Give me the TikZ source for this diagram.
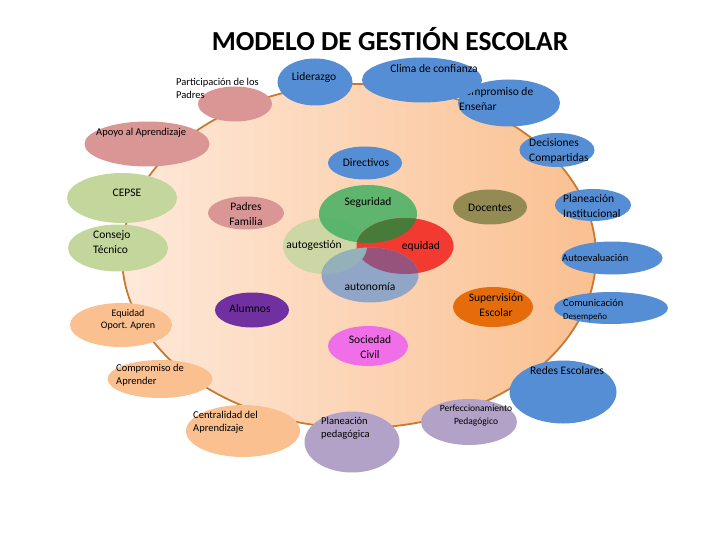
\documentclass[tikz,border=0pt]{standalone}
\usepackage{fontspec}
\setmainfont{Carlito}
\usetikzlibrary{shapes.geometric}
\definecolor{peachA}{RGB}{254,233,218}
\definecolor{peachB}{RGB}{250,192,144}
\definecolor{borde}{RGB}{200,122,50}
\definecolor{azul}{RGB}{85,142,213}
\definecolor{rosa}{RGB}{217,150,148}
\definecolor{verde}{RGB}{195,214,155}
\definecolor{durazno}{RGB}{250,192,144}
\definecolor{lila}{RGB}{179,162,199}
\definecolor{morado}{RGB}{112,48,160}
\definecolor{oliva}{RGB}{148,138,84}
\definecolor{naranja}{RGB}{228,108,10}
\definecolor{magenta}{RGB}{240,110,232}
\definecolor{autog}{RGB}{205,215,165}
\definecolor{segur}{RGB}{78,178,102}
\definecolor{equid}{RGB}{242,58,48}
\definecolor{auton}{RGB}{145,166,198}
\definecolor{segequ}{RGB}{72,122,58}
\definecolor{autequ}{RGB}{150,84,124}
\definecolor{autaut}{RGB}{148,176,186}
\begin{document}
\begin{tikzpicture}[x=1pt,y=-1pt,
blob/.style={ellipse,inner sep=0pt},
txt/.style={font=\fontsize{11.5}{14.5}\selectfont,inner sep=0pt},
chico/.style={font=\fontsize{10.5}{13}\selectfont,inner sep=0pt}]
\useasboundingbox (0,0) rectangle (720,540);
\node[font=\fontsize{27.5}{30}\selectfont\bfseries] (titulo) at (390,39) {MODELO DE GESTIÓN ESCOLAR};
% big ring
\node[blob,draw=borde,line width=1.8pt,left color=peachA,right color=peachB,minimum width=474,minimum height=344] (modelo) at (359,256) {};
% top of the ring
\node[blob,fill=rosa,minimum width=74,minimum height=35] (padres) at (235,104) {};
\node[chico,anchor=west,align=left] (padres-t) at (176,88) {Participación de los\\Padres};
\node[blob,fill=azul,minimum width=75,minimum height=47] (lider) at (315,82) {};
\node[txt] (lider-t) at (314,77) {Liderazgo};
\node[blob,fill=azul,minimum width=102,minimum height=47] (ensenar) at (509,103) {};
\node[txt,anchor=west,align=left] (ensenar-t) at (459,99) {Compromiso de\\Enseñar};
\node[blob,fill=azul,minimum width=120,minimum height=45] (clima) at (422,80) {};
\node[txt] (clima-t) at (434,69) {Clima de confianza};
\node[blob,fill=rosa,minimum width=125,minimum height=45] (apoyo) at (147,144) {};
\node[chico,anchor=west] (apoyo-t) at (96,133) {Apoyo al Aprendizaje};
\node[blob,fill=azul,minimum width=75,minimum height=34] (decide) at (557,150) {};
\node[txt,anchor=west,align=left] (decide-t) at (529,151) {Decisiones\\Compartidas};
% left side
\node[blob,fill=verde,minimum width=110,minimum height=50] (cepse) at (122,198) {};
\node[txt] (cepse-t) at (127,193) {CEPSE};
\node[blob,fill=verde,minimum width=100,minimum height=47] (consejo) at (118,248) {};
\node[txt,anchor=west,align=left] (consejo-t) at (93,242) {Consejo\\Técnico};
\node[blob,fill=durazno,minimum width=102,minimum height=44] (equidad) at (121,325) {};
\node[font=\fontsize{10}{12.5}\selectfont,inner sep=0pt,align=center] (equidad-t) at (128,320) {Equidad\\Oport. Apren};
\node[blob,fill=durazno,minimum width=105,minimum height=38] (aprender) at (160,379) {};
\node[chico,anchor=west,align=left] (aprender-t) at (116,375) {Compromiso de\\Aprender};
\node[blob,fill=durazno,minimum width=114,minimum height=52] (central) at (243,431) {};
\node[chico,anchor=west,align=left] (central-t) at (193,422) {Centralidad del\\Aprendizaje};
% bottom and right side
\node[blob,fill=lila,minimum width=95,minimum height=61] (planped) at (352,442) {};
\node[chico,anchor=west,align=left] (planped-t) at (321,428) {Planeación\\pedagógica};
\node[blob,fill=lila,minimum width=96,minimum height=46] (perfec) at (469,422) {};
\node[blob,fill=azul,minimum width=107,minimum height=63] (redes) at (563,392) {};
\node[txt] (redes-t) at (567,371) {Redes Escolares};
\node[font=\fontsize{9.5}{13}\selectfont,inner sep=0pt,align=center] (perfec-t) at (476,416) {Perfeccionamiento\\Pedagógico};
\node[blob,fill=azul,minimum width=76,minimum height=32] (planinst) at (593,205) {};
\node[txt,anchor=west,align=left] (planinst-t) at (563,206) {Planeación\\Institucional};
\node[blob,fill=azul,minimum width=101,minimum height=33] (autoev) at (612,258) {};
\node[chico,anchor=west] (autoev-t) at (562,258) {Autoevaluación};
\node[blob,fill=azul,minimum width=114,minimum height=32] (comun) at (611,308) {};
\node[chico,anchor=west,align=left] (comun-t) at (563,310) {Comunicación\\\fontsize{9}{12}\selectfont Desempeño};
% inside the ring
\node[blob,fill=azul,minimum width=74,minimum height=33] (direct) at (365,163) {};
\node[txt] (direct-t) at (366,163) {Directivos};
\node[blob,fill=rosa,minimum width=76,minimum height=33] (familia) at (246,213) {};
\node[txt,align=center] (familia-t) at (246,214) {Padres\\Familia};
\node[blob,fill=oliva,minimum width=74,minimum height=35] (docentes) at (490,207) {};
\node[txt] (docentes-t) at (490,208) {Docentes};
\node[blob,fill=naranja,minimum width=80,minimum height=40] (superv) at (493,307) {};
\node[txt,align=center] (superv-t) at (496,305) {Supervisión\\Escolar};
\node[blob,fill=morado,minimum width=74,minimum height=35] (alumnos) at (252,310) {};
\node[txt] (alumnos-t) at (250,309) {Alumnos};
\node[blob,fill=magenta,minimum width=80,minimum height=40] (sociedad) at (368,346) {};
\node[txt,align=center] (sociedad-t) at (370,347) {Sociedad\\Civil};
% overlapping circles
\node[blob,fill=autog,minimum width=84,minimum height=56] (autoges) at (325,246) {};
\node[blob,fill=segur,fill opacity=0.9,minimum width=98,minimum height=58] (segurid) at (368,214) {};
\node[blob,fill=equid,minimum width=97,minimum height=56] (equidad2) at (405,246) {};
\begin{scope}
\clip (368,214) ellipse [x radius=49,y radius=29];
\fill[segequ] (405,246) ellipse [x radius=48.5,y radius=28];
\end{scope}
\node[blob,fill=auton,minimum width=97,minimum height=55] (autonom) at (370,275) {};
\begin{scope}
\clip (370,275) ellipse [x radius=48.5,y radius=27.5];
\fill[autequ] (405,246) ellipse [x radius=48.5,y radius=28];
\fill[autaut] (325,246) ellipse [x radius=42,y radius=28];
\end{scope}
\node[txt] (segurid-t) at (368,202) {Seguridad};
\node[txt] (autoges-t) at (314,246) {autogestión};
\node[txt] (equidad2-t) at (421,246) {equidad};
\node[txt] (autonom-t) at (370,287) {autonomía};
\end{tikzpicture}
\end{document}
